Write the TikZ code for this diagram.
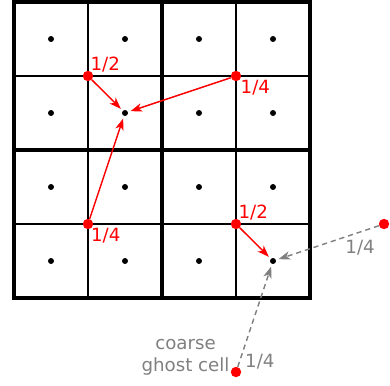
\documentclass[tikz,border=0pt]{standalone}
\usepackage{fontspec}
\setmainfont{DejaVu Sans}
\usetikzlibrary{arrows.meta,positioning}

\begin{document}
\begin{tikzpicture}[
    x=2cm, y=2cm,
    font=\fontsize{14}{17}\selectfont,
    fine/.style={line width=1.5pt},
    coarse/.style={line width=3pt},
    cell/.style={circle, fill=black, inner sep=0pt, minimum size=4.6pt},
    src/.style={circle, fill=red, inner sep=0pt, minimum size=8pt},
    wgt/.style={red, inner sep=0pt},
    gwgt/.style={gray, inner sep=0pt},
    flux/.style={-{Stealth[length=9pt, width=6.5pt, inset=2.6pt]}, red, line width=1.1pt, shorten >=2pt},
    gflux/.style={-{Stealth[length=9pt, width=6.5pt, inset=2.6pt]}, gray, line width=1.1pt, dash pattern=on 4pt off 3pt, shorten >=2pt}
]
\useasboundingbox (-0.189,-1.176) rectangle (5.081,4.027);

% fine and coarse grid
\foreach \k in {1,3}
    \draw[fine] (\k,0) -- (\k,4) (0,\k) -- (4,\k);
\draw[coarse] (0,0) rectangle (4,4) (2,0) -- (2,4) (0,2) -- (4,2);

% cell centres
\foreach \i in {0,...,3}
    \foreach \j in {0,...,3}
        \node[cell] (c\i\j) at (\i+0.5,\j+0.5) {};

\node[src] (s1) at (1,3) {};
\node[src] (s2) at (3,3) {};
\node[src] (s3) at (1,1) {};
\node[src] (s4) at (3,1) {};
\node[src] (g1) at (5,1) {};
\node[src] (g2) at (3,-1) {};

\node[wgt, anchor=base west] (w1) at ([shift={(1.8pt,4.5pt)}]s1.center) {1/2};
\node[wgt, anchor=base west] (w2) at ([shift={(3.4pt,-13.3pt)}]s2.center) {1/4};
\node[wgt, anchor=base west] (w3) at ([shift={(2.2pt,-13.3pt)}]s3.center) {1/4};
\node[wgt, anchor=base west] (w4) at ([shift={(1.8pt,4.5pt)}]s4.center) {1/2};
\node[gwgt, anchor=base east] (w5) at ([shift={(-6.9pt,-22.6pt)}]g1.center) {1/4};
\node[gwgt, anchor=base west] (w6) at ([shift={(6.9pt,3.6pt)}]g2.center) {1/4};
\node[gwgt, align=center, anchor=south east] (ghost) at ([shift={(-4.8pt,-2.9pt)}]g2.center) {coarse\\ghost cell};

\draw[flux] (s1) -- (c12);
\draw[flux] (s2) -- (c12);
\draw[flux] (s3) -- (c12);
\draw[flux] (s4) -- (c30);
\draw[gflux] (g1) -- (c30);
\draw[gflux] (g2) -- (c30);
\end{tikzpicture}
\end{document}
